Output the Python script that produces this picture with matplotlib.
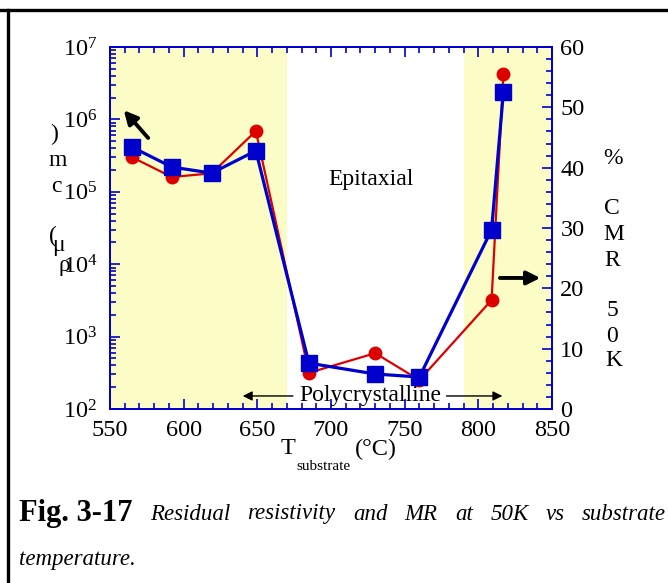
import matplotlib
matplotlib.use("Agg")
import matplotlib.pyplot as plt
from matplotlib.ticker import MultipleLocator, LogLocator, LogFormatterMathtext, NullFormatter
from matplotlib.lines import Line2D

# ---- data ----
temps = [565, 592, 619, 649, 685, 730, 760, 809, 817]
resistivity = [3.0e5, 1.6e5, 1.8e5, 6.9e5, 316, 590, 251, 3.2e3, 4.2e6]
mr_50k = [43.4, 40.1, 39.1, 42.8, 7.6, 5.8, 5.3, 29.7, 52.5]
x_ticks = [550, 600, 650, 700, 750, 800, 850]
right_ticks = [0, 10, 20, 30, 40, 50, 60]
shade_spans = [(550, 670), (790, 850)]

plt.rcParams['font.family'] = ['Liberation Serif', 'DejaVu Serif']
plt.rcParams['mathtext.fontset'] = 'stix'

W, H = 668, 583
fig = plt.figure(figsize=(W / 100, H / 100), dpi=100)

def fx(px):
    return px / W

def fy(py):
    return 1 - py / H

ax = fig.add_axes([fx(110), fy(409), fx(552) - fx(110), fy(47) - fy(409)])
ax2 = ax.twinx()

blue = '#0000cc'
red = '#dd0000'

for a, b in shade_spans:
    ax.axvspan(a, b, color='#fcfcc6', zorder=0, lw=0)

ax.plot(temps, resistivity, '-o', color=red, lw=1.6, ms=9, zorder=3)
ax2.plot(temps, mr_50k, '-s', color=blue, lw=2.3, ms=11, zorder=3)

ax.set_xlim(550, 850)
ax.set_yscale('log')
ax.set_ylim(1e2, 1e7)
ax2.set_ylim(0, 60)

ax.set_xticks(x_ticks)
ax.xaxis.set_minor_locator(MultipleLocator(10))
ax.yaxis.set_major_locator(LogLocator(base=10))
ax.yaxis.set_minor_locator(LogLocator(base=10, subs=range(2, 10)))
ax.yaxis.set_major_formatter(LogFormatterMathtext())
ax.yaxis.set_minor_formatter(NullFormatter())
ax2.set_yticks(right_ticks)
ax2.yaxis.set_minor_locator(MultipleLocator(2))

for a in (ax, ax2):
    for s in a.spines.values():
        s.set_color(blue)
        s.set_linewidth(1.3)

TS = 17.5
ax.tick_params(axis='both', which='both', direction='in', color=blue, labelsize=TS,
               top=True, right=False, labelcolor='black')
ax.tick_params(axis='both', which='major', length=7, width=1.2)
ax.tick_params(axis='both', which='minor', length=4, width=1.2)
ax.tick_params(axis='x', pad=8)
ax.tick_params(axis='y', pad=9)
ax2.tick_params(axis='y', which='both', direction='in', color=blue, labelsize=TS, pad=6)
ax2.tick_params(axis='y', which='major', length=7, width=1.2)
ax2.tick_params(axis='y', which='minor', length=4, width=1.2)

# annotations inside axes (axes fraction)
ax.text(0.590, 0.633, 'Epitaxial', transform=ax.transAxes, ha='center', va='center', fontsize=17)
ax.text(0.590, 0.036, 'Polycrystalline', transform=ax.transAxes, ha='center', va='center', fontsize=17, zorder=5)
ax.annotate('', xy=(0.294, 0.036), xytext=(0.42, 0.036), xycoords='axes fraction',
            arrowprops=dict(arrowstyle='-|>', color='k', lw=1.0, mutation_scale=14))
ax.annotate('', xy=(0.894, 0.036), xytext=(0.755, 0.036), xycoords='axes fraction',
            arrowprops=dict(arrowstyle='-|>', color='k', lw=1.0, mutation_scale=14))
ax2.annotate('', xy=(0.027, 0.831), xytext=(0.0905, 0.743), xycoords='axes fraction',
             arrowprops=dict(arrowstyle='-|>', color='k', lw=2.8, mutation_scale=20), zorder=6)
ax2.annotate('', xy=(0.980, 0.362), xytext=(0.876, 0.362), xycoords='axes fraction',
             arrowprops=dict(arrowstyle='-|>', color='k', lw=2.8, mutation_scale=20), zorder=6)

# x label
fig.text(fx(288), fy(449), 'T', ha='center', va='center', fontsize=17.5)
fig.text(fx(323), fy(467), 'substrate', ha='center', va='center', fontsize=11)
fig.text(fx(376), fy(449), '(°C)', ha='center', va='center', fontsize=17.5)

# stacked left label
for ch, x, y in [(')', 54, 134), ('m', 58, 160), ('c', 56, 186), ('(', 53, 236), ('μ', 58, 245), ('ρ', 64, 266)]:
    fig.text(fx(x), fy(y), ch, ha='center', va='center', fontsize=17)
# stacked right label
for ch, x, y in [('%', 613, 158), ('C', 612, 208), ('M', 614, 235), ('R', 612, 261),
                 ('5', 612, 310), ('0', 612, 336), ('K', 614, 361)]:
    fig.text(fx(x), fy(y), ch, ha='center', va='center', fontsize=17)

# border lines
fig.add_artist(Line2D([0, 1], [fy(10), fy(10)], transform=fig.transFigure, color='k', lw=2.4))
fig.add_artist(Line2D([fx(8), fx(8)], [0, fy(10)], transform=fig.transFigure, color='k', lw=2.4))

# caption
fig.text(fx(19), fy(513), 'Fig. 3-17', ha='left', va='center', fontsize=22, fontweight='bold')
words = ['Residual', 'resistivity', 'and', 'MR', 'at', '50K', 'vs', 'substrate']
texts = [fig.text(0, fy(514), w, ha='left', va='center', fontsize=16.5, style='italic') for w in words]
fig.canvas.draw()
r = fig.canvas.get_renderer()
widths = [t.get_window_extent(r).width for t in texts]
x0, x1 = 150, 666
gap = (x1 - x0 - sum(widths)) / (len(words) - 1)
x = x0
for t, w in zip(texts, widths):
    t.set_x(fx(x))
    x += w + gap
fig.text(fx(19), fy(560), 'temperature.', ha='left', va='center', fontsize=16.5, style='italic')

fig.savefig('out.png', dpi=100)
